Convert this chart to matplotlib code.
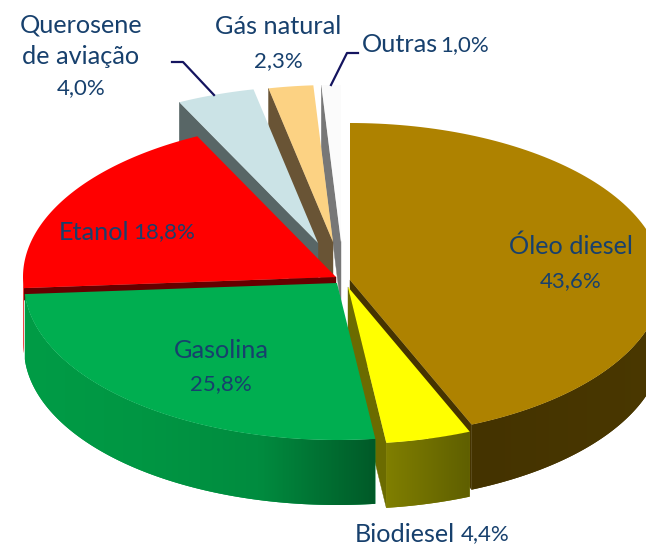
import numpy as np
import matplotlib
matplotlib.use("Agg")
import matplotlib.pyplot as plt
from matplotlib.colors import LinearSegmentedColormap
from matplotlib.patches import Polygon

plt.rcParams['font.family'] = ['Lato', 'DejaVu Sans']

# chart data
categories = ["Óleo diesel", "Biodiesel", "Gasolina", "Etanol", "Querosene de aviação", "Gás natural", "Outras"]
values = [43.6, 4.4, 25.8, 18.8, 4.0, 2.3, 1.0]
value_labels = ["43,6%", "4,4%", "25,8%", "18,8%", "4,0%", "2,3%", "1,0%"]

# look of the slices
top_colors = ["#ae8200", "#ffff00", "#00ae50", "#ff0000", "#cbe3e6", "#fcd283", "#fbfbfb"]
face_colors = ["#463400", "#6b6b00", "#00602c", "#660000", "#586666", "#695435", "#777777"]
side_ramps = [["#443300", "#4a3800"], ["#807f00", "#5f5f00"], ["#009c46", "#009643", "#008c3f", "#005a28"],
              ["#f04040", "#f04040"], ["#586666", "#586666"], ["#695435", "#695435"], ["#777777", "#777777"]]
apex = [(350, 280), (348, 287), (337, 283), (336, 277), (318, 243), (333, 242), (341, 242)]
face_depth = [65, 65, 65, 12, 65, 65, 65]
draw_order = [6, 5, 4, 3, 0, 1, 2]

RX, RY, DEPTH = 313, 157, 65
TEXT = "#17406d"
LEADER = "#14145f"

fig = plt.figure(figsize=(6.46, 5.46), dpi=100)
ax = fig.add_axes([0, 0, 1, 1])

edges = np.cumsum([0] + values) / sum(values) * 360


def rim(i, a):
    t = np.radians(a)
    return apex[i][0] + RX * np.sin(t), apex[i][1] - RY * np.cos(t)


def draw_wall(i, lo, hi):
    xs, ys = rim(i, np.linspace(lo, hi, 100))
    pts = np.r_[np.c_[xs, ys], np.c_[xs[::-1], ys[::-1] + DEPTH]]
    # base polygon keeps a clean edge, gradient image goes on top of it
    poly = Polygon(pts, closed=True, facecolor=side_ramps[i][0], lw=0, transform=ax.transData, zorder=1)
    ax.add_patch(poly)
    cmap = LinearSegmentedColormap.from_list("side", side_ramps[i])
    im = ax.imshow(np.linspace(0, 1, 200)[None, :], cmap=cmap, aspect="auto", zorder=1,
                   extent=[xs.min(), xs.max(), ys.max() + DEPTH, ys.min()])
    im.set_clip_path(poly)


def draw_slice(i):
    start, end = edges[i], edges[i + 1]
    cx, cy = apex[i]
    d = face_depth[i]

    # radial faces that look to the viewer
    for a in (start, end):
        px, py = rim(i, a)
        if (a == end and a < 180) or (a == start and a > 180):
            ax.fill([cx, px, px, cx], [cy, py, py + d, cy + d], color=face_colors[i], lw=0.3, zorder=1)

    # outer wall, only the front half of the ellipse
    lo, hi = max(start, 90), min(end, 270)
    if lo < hi:
        draw_wall(i, lo, hi)

    # top of the slice
    xs, ys = rim(i, np.linspace(start, end, 120))
    ax.fill(np.r_[cx, xs], np.r_[cy, ys], color=top_colors[i], lw=0, zorder=1)


for i in draw_order:
    draw_slice(i)

# leader lines
ax.plot([172, 183, 214], [62, 62, 95], color=LEADER, lw=1.6, zorder=3)
ax.plot([358, 347, 331], [53, 53, 85], color=LEADER, lw=1.6, zorder=3)

# labels
WORD_FS = 18.2
NUM_FS = 16


def word(x, y, s, ha="center"):
    ax.text(x, y + 1, s, ha=ha, va="center", color=TEXT, fontsize=WORD_FS, zorder=4)


def num(x, y, s, ha="center"):
    ax.text(x, y + 1, s, ha=ha, va="center", color=TEXT, fontsize=NUM_FS, zorder=4)


word(571, 245, categories[0])
num(571, 280, value_labels[0])
word(355, 533, categories[1], ha="left")
num(510, 533, value_labels[1], ha="right")
word(221, 349, categories[2])
num(221, 383, value_labels[2])
word(59, 231, categories[3], ha="left")
num(195, 231, value_labels[3], ha="right")
word(81, 24, "Querosene")
word(81, 56, "de aviação")
num(81, 87, value_labels[4])
word(278, 26, categories[5])
num(278, 60, value_labels[5])
word(362, 44, categories[6], ha="left")
num(489, 44, value_labels[6], ha="right")

ax.set_xlim(0, 646)
ax.set_ylim(546, 0)
ax.axis("off")

fig.savefig("out.png", dpi=100)
